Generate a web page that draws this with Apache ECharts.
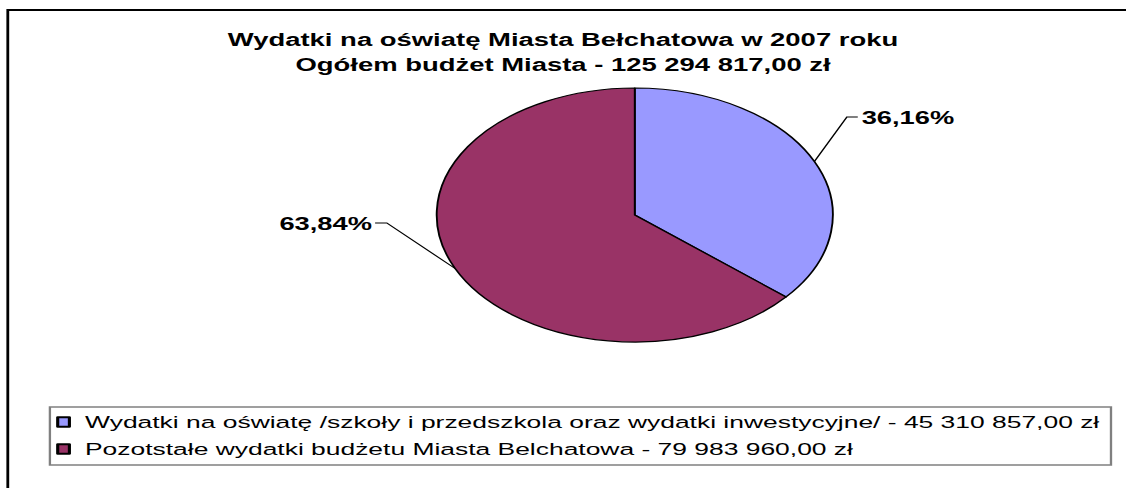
<!DOCTYPE html>
<html>
<head>
<meta charset="utf-8">
<script src="https://cdn.jsdelivr.net/npm/echarts@6/dist/echarts.min.js"></script>
<style>
  html, body { margin: 0; padding: 0; background: #fff; }
  #wrap { width: 1126px; height: 488px; overflow: hidden; position: relative; background: #fff; }
  /* The reference picture is a horizontally stretched chart: draw it narrow, then stretch */
  #chart { width: 722px; height: 488px; transform: scaleX(1.5596); transform-origin: 0 0; }
</style>
</head>
<body>
<div id="wrap"><div id="chart"></div></div>
<script>
// ---- data ----
const titleLines = [
  'Wydatki na oświatę Miasta Bełchatowa w 2007 roku',
  'Ogółem budżet Miasta - 125 294 817,00 zł'
];
const categories = [
  'Wydatki na oświatę /szkoły i przedszkola oraz wydatki inwestycyjne/ - 45 310 857,00 zł',
  'Pozotstałe wydatki budżetu Miasta Belchatowa - 79 983 960,00 zł'
];
const values = [45310857.00, 79983960.00];

// ---- styles ----
const sliceColors = ['#9999FF', '#993366'];
const FONT = '"Liberation Sans", Arial, sans-serif';

const chart = echarts.init(document.getElementById('chart'), null, { renderer: 'svg' });

const pieData = categories.map((name, i) => ({
  name: name,
  value: values[i],
  itemStyle: { color: sliceColors[i] }
}));

// label placement (in chart coordinates) for each slice
const labelPlace = [
  { x: 552.5, y: 118, align: 'left',  stub: [543, 550] },
  { x: 238.5, y: 224, align: 'right', stub: [248, 240.5] }
];

chart.setOption({
  animation: false,
  backgroundColor: '#fff',
  graphic: [{
    type: 'rect',
    shape: { x: 5, y: 10, width: 800, height: 600 },
    style: { fill: 'none', stroke: '#000', lineWidth: 1.8 },
    silent: true,
    z: 0
  }],
  title: {
    text: titleLines.join('\n'),
    left: 'center',
    top: 22,
    padding: [5, 0, 5, 9],
    textStyle: {
      fontFamily: FONT,
      fontWeight: 'bold',
      fontSize: 17.6,
      lineHeight: 25,
      color: '#000'
    }
  },
  legend: {
    orient: 'vertical',
    left: 32,
    top: 407,
    padding: [5, 7.5, 6, 4],
    itemGap: 7,
    itemWidth: 7.5,
    itemHeight: 9.5,
    icon: 'rect',
    borderColor: '#808080',
    borderWidth: 1.5,
    borderRadius: 0,
    selectedMode: false,
    textStyle: {
      fontFamily: FONT,
      fontSize: 16.95,
      lineHeight: 20,
      color: '#000',
      padding: [0, 0, 0, 5]
    },
    data: categories
  },
  series: [{
    type: 'pie',
    center: [407, 215],
    radius: 127,
    startAngle: 90,
    clockwise: true,
    data: pieData,
    itemStyle: { borderColor: '#000', borderWidth: 1.2 },
    emphasis: { disabled: true },
    label: {
      show: true,
      position: 'outside',
      fontFamily: FONT,
      fontWeight: 'bold',
      fontSize: 17.5,
      color: '#000',
      formatter: p => p.percent.toFixed(2).replace('.', ',') + '%'
    },
    labelLine: {
      show: true,
      length: 20,
      length2: 7,
      lineStyle: { color: '#000', width: 1 }
    },
    labelLayout: function (params) {
      const lp = labelPlace[params.dataIndex];
      const pts = params.labelLinePoints;
      const out = { x: lp.x, y: lp.y, align: lp.align, verticalAlign: 'middle' };
      if (pts) {
        out.labelLinePoints = [pts[0], [lp.stub[0], lp.y - 1], [lp.stub[1], lp.y - 1]];
      }
      return out;
    }
  }]
});
</script>
</body>
</html>
